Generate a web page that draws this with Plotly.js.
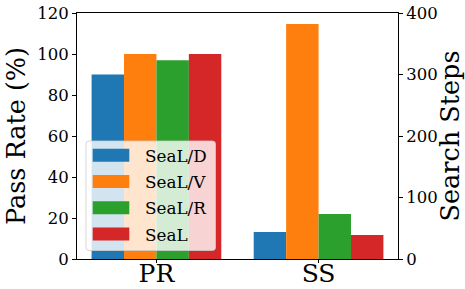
<!DOCTYPE html>
<html>
<head>
<meta charset="utf-8">
<script src="https://cdn.plot.ly/plotly-3.0.1.min.js"></script>
<style>html,body{margin:0;padding:0;background:#fff;}#chart{width:465px;height:289px;}</style>
</head>
<body>
<div id="chart"></div>
<script>
// ---- data ----
const categories = ['PR', 'SS'];
const seriesNames = ['SeaL/D', 'SeaL/V', 'SeaL/R', 'SeaL'];
const passRate = [90, 100, 97, 100];      // PR group, left axis (%)
const searchSteps = [44, 382, 73, 39];    // SS group, right axis (steps)
const yTicks = [0, 20, 40, 60, 80, 100, 120];
const y2Ticks = [0, 100, 200, 300, 400];

// ---- style ----
const colors = ['#1f77b4', '#ff7f0e', '#2ca02c', '#d62728'];
const FONT = 'DejaVu Serif';
const W = 465, H = 289;
const M = {l: 77, r: 67, t: 13, b: 30};
const PW = W - M.l - M.r, PH = H - M.t - M.b;
const barW = 0.2;

const traces = [];
seriesNames.forEach((name, i) => {
  const off = -0.4 + i * barW;
  traces.push({
    type: 'bar', name: name, x: [0], y: [passRate[i]], yaxis: 'y',
    width: barW, offset: off, marker: {color: colors[i], line: {width: 0}},
    showlegend: false, hoverinfo: 'skip'
  });
  traces.push({
    type: 'bar', name: name, x: [1], y: [searchSteps[i]], yaxis: 'y2',
    width: barW, offset: off, marker: {color: colors[i], line: {width: 0}},
    showlegend: false, hoverinfo: 'skip'
  });
});

// pixel -> paper helpers (for the legend box only)
const px = v => (v - M.l) / PW;
const py = v => (H - M.b - v) / PH;

const shapes = [];
const annotations = [];
// legend frame with rounded corners
(function () {
  const x0 = px(86), x1 = px(215.5), y0 = py(250.5), y1 = py(141);
  const rx = 3 / PW, ry = 3 / PH;
  const path = `M ${x0 + rx},${y1} L ${x1 - rx},${y1} Q ${x1},${y1} ${x1},${y1 - ry} ` +
    `L ${x1},${y0 + ry} Q ${x1},${y0} ${x1 - rx},${y0} L ${x0 + rx},${y0} ` +
    `Q ${x0},${y0} ${x0},${y0 + ry} L ${x0},${y1 - ry} Q ${x0},${y1} ${x0 + rx},${y1} Z`;
  shapes.push({type: 'path', xref: 'paper', yref: 'paper', path: path,
    fillcolor: 'rgba(255,255,255,0.8)', line: {color: 'rgba(204,204,204,0.8)', width: 1}, layer: 'above'});
})();
const rowY = [155.3, 181.5, 207.7, 234];
seriesNames.forEach((name, i) => {
  shapes.push({type: 'rect', xref: 'paper', yref: 'paper',
    x0: px(92.7), x1: px(129.3), y0: py(rowY[i] + 6.5), y1: py(rowY[i] - 6.5),
    fillcolor: colors[i], line: {width: 0}, layer: 'above'});
  annotations.push({xref: 'paper', yref: 'paper', x: px(142.5), y: py(rowY[i] + 0.5),
    xanchor: 'left', yanchor: 'middle', showarrow: false, text: name,
    font: {family: FONT, size: 16.8, color: '#000'}});
});

const layout = {
  width: W, height: H,
  margin: M,
  paper_bgcolor: '#fff', plot_bgcolor: '#fff',
  barmode: 'overlay',
  showlegend: false,
  font: {family: FONT, color: '#000'},
  xaxis: {
    range: [-0.49, 1.49], tickvals: [0, 1], ticktext: categories,
    tickfont: {family: FONT, size: 25, color: '#000'},
    showgrid: false, zeroline: false, showline: true, linecolor: '#000', linewidth: 1,
    mirror: true, ticks: 'outside', ticklen: 3, tickcolor: '#000', fixedrange: true,
    ticklabelstandoff: -11, automargin: false
  },
  yaxis: {
    range: [0, 120], tickvals: yTicks, ticktext: yTicks.map(String),
    tickfont: {family: FONT, size: 16.5, color: '#000'},
    title: {text: 'Pass Rate (%)', font: {family: FONT, size: 25.5, color: '#000'}, standoff: 4},
    showgrid: false, zeroline: false, showline: true, linecolor: '#000', linewidth: 1,
    ticks: 'outside', ticklen: 4, tickcolor: '#000', automargin: false
  },
  yaxis2: {
    range: [0, 400], tickvals: y2Ticks, ticktext: y2Ticks.map(String),
    overlaying: 'y', side: 'right',
    tickfont: {family: FONT, size: 16.5, color: '#000'},
    title: {text: 'Search Steps', font: {family: FONT, size: 25.5, color: '#000'}, standoff: 1},
    showgrid: false, zeroline: false, showline: true, linecolor: '#000', linewidth: 1,
    ticks: 'outside', ticklen: 4, tickcolor: '#000', automargin: false
  },
  shapes: shapes,
  annotations: annotations
};

Plotly.newPlot('chart', traces, layout, {displayModeBar: false, staticPlot: true});
</script>
</body>
</html>
